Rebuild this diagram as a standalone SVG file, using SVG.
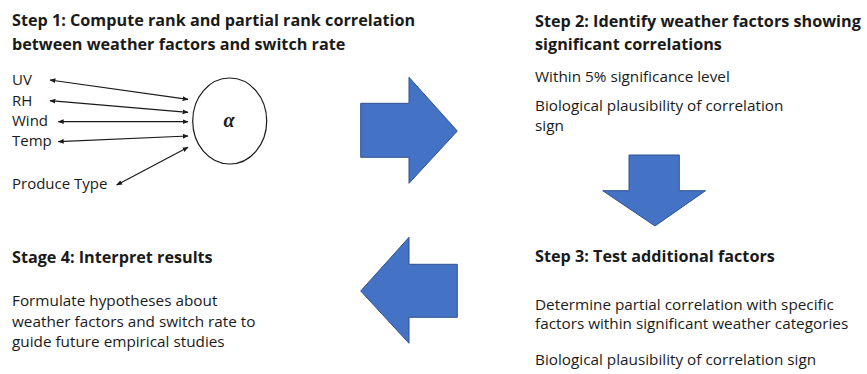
<svg xmlns="http://www.w3.org/2000/svg" width="867" height="374" viewBox="0 0 867 374">
  <style>
    .title { font-family: "Open Sans", "Liberation Sans", sans-serif; font-weight: bold; font-size: 16.2px; fill: #1a1a1a; }
    .body { font-family: "Open Sans", "Liberation Sans", sans-serif; font-size: 15.3px; fill: #1a1a1a; }
    .label { font-family: "Open Sans", "Liberation Sans", sans-serif; font-size: 15px; fill: #1a1a1a; }
    .link { stroke: #1a1a1a; stroke-width: 1.2; fill: none; marker-start: url(#tip); marker-end: url(#tip); }
    .block { fill: #4472C4; stroke: #2F528F; stroke-width: 1; }
  </style>
  <defs>
    <marker id="tip" viewBox="0 0 10 10" refX="9" refY="5" markerWidth="6" markerHeight="6" markerUnits="userSpaceOnUse" orient="auto-start-reverse">
      <path d="M0,1 L10,5 L0,9 Z" fill="#1a1a1a"/>
    </marker>
  </defs>
  <rect width="867" height="374" fill="#ffffff"/>

  <!-- Step 1 -->
  <g id="step1">
    <text class="title" x="12" y="26">Step 1: Compute rank and partial rank correlation<tspan x="12" y="50">between weather factors and switch rate</tspan></text>
    <text class="label" x="12" y="85">UV</text>
    <text class="label" x="12" y="105.5">RH</text>
    <text class="label" x="12" y="125.5">Wind</text>
    <text class="label" x="12" y="145.5">Temp</text>
    <text class="label" x="12" y="189">Produce Type</text>
  </g>
  <g id="alpha">
    <ellipse cx="229.7" cy="121" rx="37" ry="43" fill="#ffffff" stroke="#1a1a1a" stroke-width="1.2"/>
    <text x="229" y="127" text-anchor="middle" font-family="Liberation Serif, serif" font-style="italic" font-weight="bold" font-size="20" fill="#1a1a1a">α</text>
  </g>
  <g id="links">
    <line class="link" x1="50" y1="80" x2="188" y2="99.3"/>
    <line class="link" x1="50" y1="100.7" x2="188" y2="112.3"/>
    <line class="link" x1="58.3" y1="121.7" x2="188" y2="121.7"/>
    <line class="link" x1="58.3" y1="141.7" x2="188" y2="136"/>
    <line class="link" x1="116.7" y1="185" x2="188" y2="147.3"/>
  </g>

  <!-- Step 2 -->
  <g id="step2">
    <text class="title" x="535" y="27">Step 2: Identify weather factors showing<tspan x="535" y="50">significant correlations</tspan></text>
    <text class="body" x="535" y="81.7">Within 5% significance level</text>
    <text class="body" x="535" y="111">Biological plausibility of correlation</text>
    <text class="body" x="535" y="131">sign</text>
  </g>

  <!-- Step 3 -->
  <g id="step3">
    <text class="title" x="535" y="261.7">Step 3: Test additional factors</text>
    <text class="body" x="535" y="310">Determine partial correlation with specific<tspan x="535" y="329.3">factors within significant weather categories</tspan></text>
    <text class="body" x="535" y="365">Biological plausibility of correlation sign</text>
  </g>

  <!-- Stage 4 -->
  <g id="stage4">
    <text class="title" x="12" y="263.3">Stage 4: Interpret results</text>
    <text class="body" x="12" y="306">Formulate hypotheses about<tspan x="12" y="327">weather factors and switch rate to</tspan><tspan x="12" y="347">guide future empirical studies</tspan></text>
  </g>

  <!-- Block arrows between stages -->
  <g id="flow">
    <path class="block" d="M360.7,103.3 H409 V77.3 L457.3,131 L409,183.3 V157.3 H360.7 Z"/>
    <path class="block" d="M629,155 H679.3 V190.7 H705.5 L655,226 L602.7,190.7 H629 Z"/>
    <path class="block" d="M457.3,264.3 H409 V237.3 L360.7,291 L409,343.3 V317.3 H457.3 Z"/>
  </g>
</svg>
